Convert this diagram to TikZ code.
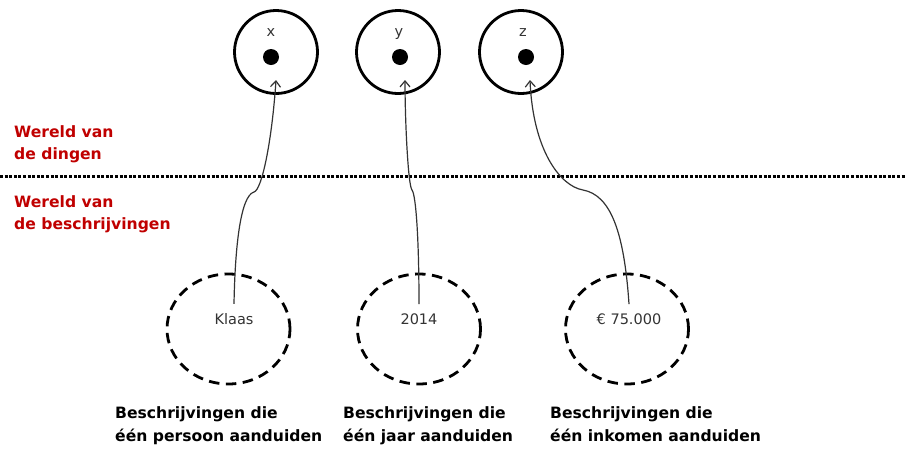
\documentclass[tikz,border=0pt]{standalone}
\usepackage{fontspec}
\setmainfont{DejaVu Sans}
\usetikzlibrary{shapes.geometric, arrows.meta}
\definecolor{worldred}{RGB}{192,0,0}
\definecolor{textgray}{RGB}{51,51,51}
\tikzstyle{thing} = [circle, draw=black, line width=2.8pt, minimum size=83pt, inner sep=0pt]
\tikzstyle{dot} = [circle, fill=black, minimum size=16pt, inner sep=0pt]
\tikzstyle{description} = [ellipse, draw=black, line width=2.8pt, dash pattern=on 10.5pt off 6.5pt, minimum width=123pt, minimum height=110pt, inner sep=0pt]
\tikzstyle{varname} = [text=textgray, font=\fontsize{14.5}{17}\selectfont, anchor=base, inner sep=0pt]
\tikzstyle{value} = [text=textgray, font=\fontsize{14.5}{17}\selectfont, anchor=base, inner xsep=0pt, inner ysep=9pt]
\tikzstyle{world} = [text=worldred, font=\bfseries\fontsize{15.6}{22}\selectfont, align=left, anchor=north west, inner sep=0pt]
\tikzstyle{caption} = [text=black, font=\bfseries\fontsize{15.6}{23}\selectfont, align=left, anchor=north west, inner sep=0pt]
\tikzstyle{divider} = [line width=3pt, dash pattern=on 3pt off 1.6pt]
\tikzstyle{arrow} = [textgray, line width=1.2pt, -{Straight Barb[length=6pt,width=10pt]}]

\begin{document}
\begin{tikzpicture}[x=1pt, y=-1pt]
\useasboundingbox (0,0) rectangle (905,448);

% Things
\node (xthing) [thing] at (276,52) {};
\node (ything) [thing] at (398,52) {};
\node (zthing) [thing] at (521,52) {};
\node (xdot) [dot] at (271,57) {};
\node (ydot) [dot] at (400,57) {};
\node (zdot) [dot] at (526,57) {};
\node (xname) [varname] at (271,36) {x};
\node (yname) [varname] at (399,36) {y};
\node (zname) [varname] at (523,36) {z};
\coordinate (xtip) at (276,80);
\coordinate (ytip) at (405,80);
\coordinate (ztip) at (530,80);

% Worlds
\node (dingen) [world] at (14,125) {Wereld van\\de dingen};
\node (beschrijvingen) [world] at (14,195) {Wereld van\\de beschrijvingen};
\coordinate (lineleft) at (0,176);
\coordinate (lineright) at (905,176);
\draw [divider] (lineleft) -- (lineright);

% Descriptions
\node (persoon) [description] at (228.5,329) {};
\node (jaar) [description] at (419,329) {};
\node (inkomen) [description] at (627,329) {};
\node (klaas) [value] at (234,324) {Klaas};
\node (year) [value] at (419,324) {2014};
\node (amount) [value] at (629,324) {€ 75.000};

% Captions
\node (persooncap) [caption] at (115,406) {Beschrijvingen die\\één persoon aanduiden};
\node (jaarcap) [caption] at (343,406) {Beschrijvingen die\\één jaar aanduiden};
\node (inkomencap) [caption] at (550,406) {Beschrijvingen die\\één inkomen aanduiden};

% Arrows
\draw [arrow] (klaas.north) .. controls (235,250) and (240,196) .. (254,192)
  .. controls (262,190) and (272,140) .. (xtip);
\draw [arrow] (year.north) .. controls (419,240) and (416,195) .. (412,190)
  .. controls (408,185) and (405,120) .. (ytip);
\draw [arrow] (amount.north) .. controls (624,230) and (610,195) .. (583,190)
  .. controls (560,186) and (533,150) .. (ztip);

\end{tikzpicture}
\end{document}
